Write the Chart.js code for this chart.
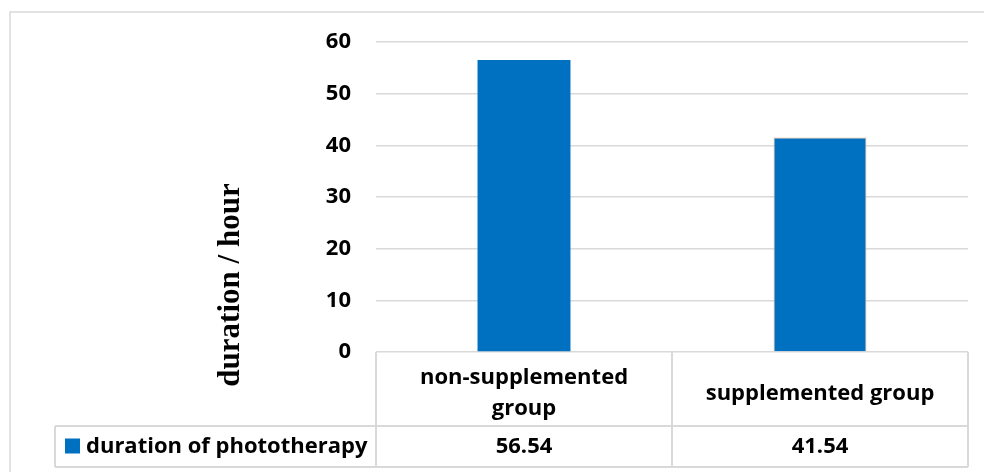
<!DOCTYPE html>
<html>
<head>
<meta charset="utf-8">
<script src="https://cdn.jsdelivr.net/npm/chart.js@4/dist/chart.umd.min.js"></script>
<style>
  html, body { margin: 0; padding: 0; background: #fff; }
  #wrap { width: 984px; height: 472px; position: relative; }
</style>
</head>
<body>
<div id="wrap"><canvas id="durationChart"></canvas></div>
<script>
// Chart data
const categories = [['non-supplemented', 'group'], 'supplemented group'];
const seriesName = 'duration of phototherapy';
const durations = [56.54, 41.54];
const yTitle = 'duration / hour';
const yMin = 0;
const yMax = 60;
const yStep = 10;

const lineGray = '#d9d9d9';
const barBlue = '#0070c0';
const labelFont = { family: 'Open Sans', size: 22, weight: 'bold' };

// Draws the outer frame, the rotated axis title and the data table under the bars
const tablePlugin = {
    id: 'dataTable',
    afterDraw(chart) {
        const { ctx, chartArea, scales } = chart;
        const x = scales.x;
        const left = chartArea.left;
        const right = chartArea.right;
        const top = chartArea.bottom;
        const rowTop = top + 74;
        const rowBottom = rowTop + 41;
        const legendLeft = 55;

        ctx.save();
        // frame
        ctx.strokeStyle = lineGray;
        ctx.lineWidth = 1.5;
        ctx.strokeRect(10, 12, 990, 480);

        // table grid
        ctx.lineWidth = 2;
        ctx.beginPath();
        ctx.moveTo(legendLeft, rowTop); ctx.lineTo(right, rowTop);
        ctx.moveTo(legendLeft, rowBottom); ctx.lineTo(right, rowBottom);
        ctx.moveTo(legendLeft, rowTop); ctx.lineTo(legendLeft, rowBottom);
        ctx.moveTo(left, top); ctx.lineTo(left, rowBottom);
        ctx.moveTo(right, top); ctx.lineTo(right, rowBottom);
        const mid = (x.getPixelForTick(0) + x.getPixelForTick(1)) / 2;
        ctx.moveTo(mid, top); ctx.lineTo(mid, rowBottom);
        ctx.stroke();

        // legend key + series name
        const rowMid = (rowTop + rowBottom) / 2;
        ctx.fillStyle = barBlue;
        ctx.fillRect(65, rowMid - 8, 15, 15);
        ctx.fillStyle = '#000';
        ctx.font = 'bold 22px "Open Sans"';
        ctx.textBaseline = 'middle';
        ctx.textAlign = 'left';
        ctx.fillText(seriesName, 86, rowMid);

        // values
        ctx.textAlign = 'center';
        durations.forEach((v, i) => {
            ctx.fillText(v.toFixed(2), x.getPixelForTick(i), rowMid);
        });

        // y axis title
        ctx.translate(231, 285);
        ctx.rotate(-Math.PI / 2);
        ctx.font = 'bold 31px "Liberation Serif"';
        ctx.textAlign = 'center';
        ctx.fillText(yTitle, 0, 0);
        ctx.restore();
    }
};

const initChart = () => {
    const ctx = document.getElementById('durationChart').getContext('2d');
    new Chart(ctx, {
        type: 'bar',
        data: {
            labels: categories,
            datasets: [{
                label: seriesName,
                data: durations,
                backgroundColor: barBlue,
                borderColor: [barBlue, '#f4b183'],
                borderWidth: [0, 1],
                categoryPercentage: 1,
                barPercentage: 0.314
            }]
        },
        options: {
            responsive: true,
            maintainAspectRatio: false,
            animation: false,
            layout: { padding: { left: 0, top: 42, right: 16, bottom: 5 } },
            plugins: {
                legend: { display: false },
                tooltip: { enabled: false }
            },
            scales: {
                x: {
                    grid: { display: false },
                    border: { display: false },
                    ticks: {
                        color: '#000',
                        font: { ...labelFont, lineHeight: 1.4 },
                        crossAlign: 'center',
                        maxRotation: 0,
                        padding: 18
                    },
                    afterFit(scale) { scale.height = 115; }
                },
                y: {
                    min: yMin,
                    max: yMax,
                    grid: { color: lineGray, lineWidth: 1.5, drawTicks: false },
                    border: { display: false },
                    ticks: {
                        stepSize: yStep,
                        color: '#000',
                        font: labelFont,
                        padding: 25
                    },
                    afterFit(scale) { scale.width = 376; }
                }
            }
        },
        plugins: [tablePlugin]
    });
};

document.addEventListener('DOMContentLoaded', initChart);
</script>
</body>
</html>
